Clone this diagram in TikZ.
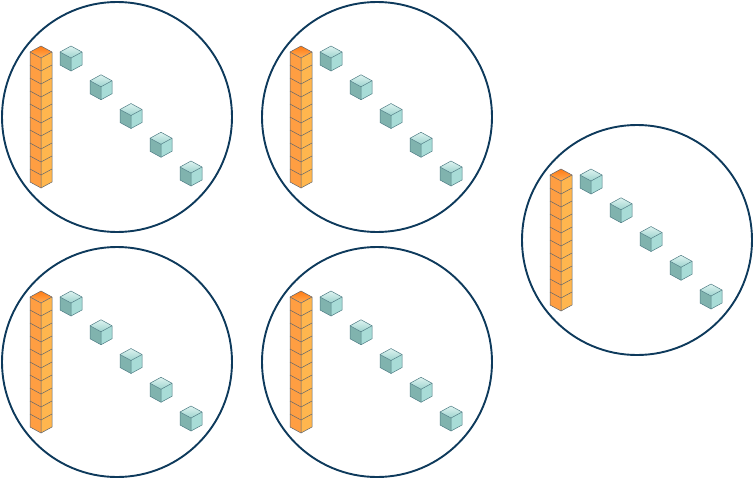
\documentclass[tikz,border=0pt]{standalone}
\usetikzlibrary{shapes.geometric}
\definecolor{ringc}{HTML}{0E3A5C}
\definecolor{rodL}{HTML}{FF9E42}
\definecolor{rodR}{HTML}{FFB64E}
\definecolor{rodT1}{HTML}{FF7A14}
\definecolor{rodT2}{HTML}{FFAE55}
\definecolor{rodE}{HTML}{5E6670}
\definecolor{cubL}{HTML}{80B3AE}
\definecolor{cubR}{HTML}{A8DCD7}
\definecolor{cubT1}{HTML}{DDF3F0}
\definecolor{cubT2}{HTML}{9ED3CE}
\definecolor{cubE}{HTML}{4E7C84}
\tikzset{
  ring/.style={circle, draw=ringc, line width=1.9pt, minimum size=230pt, inner sep=0pt, outer sep=0pt},
  rodedge/.style={draw=rodE, line width=0.5pt, line join=round},
  cubedge/.style={draw=cubE, line width=0.5pt, line join=round},
  pics/rod/.style={code={
    \fill[rodL] (-11,6) -- (0,12) -- (0,142) -- (-11,136) -- cycle;
    \fill[rodR] (0,12) -- (11,6) -- (11,136) -- (0,142) -- cycle;
    \shade[top color=rodT1, bottom color=rodT2] (0,0) -- (11,6) -- (0,12) -- (-11,6) -- cycle;
    \foreach \k in {1,...,9}{\draw[rodedge] (-11,6+13*\k) -- (0,12+13*\k) -- (11,6+13*\k);}
    \draw[rodedge] (0,0) -- (11,6) -- (11,136) -- (0,142) -- (-11,136) -- (-11,6) -- cycle;
    \draw[rodedge] (-11,6) -- (0,12) -- (11,6) (0,12) -- (0,142);
  }},
  pics/unitcube/.style={code={
    \fill[cubL] (-11,6) -- (0,12) -- (0,25) -- (-11,19) -- cycle;
    \fill[cubR] (0,12) -- (11,6) -- (11,19) -- (0,25) -- cycle;
    \shade[top color=cubT1, bottom color=cubT2] (0,0) -- (11,6) -- (0,12) -- (-11,6) -- cycle;
    \draw[cubedge] (0,0) -- (11,6) -- (11,19) -- (0,25) -- (-11,19) -- (-11,6) -- cycle;
    \draw[cubedge] (-11,6) -- (0,12) -- (11,6) (0,12) -- (0,25);
  }},
  pics/group/.style={code={
    \pic at (-76,-71) {rod};
    \foreach \k in {0,...,4}{\pic at (-46+30*\k,-71+28.75*\k) {unitcube};}
  }}
}
\begin{document}
\begin{tikzpicture}[x=1pt,y=-1pt]
\useasboundingbox (0,0) rectangle (754,480);
\node[ring] (c1) at (117,117) {};
\node[ring] (c2) at (377,117) {};
\node[ring] (c3) at (637,240) {};
\node[ring] (c4) at (117,362) {};
\node[ring] (c5) at (377,362) {};
\foreach \c in {c1,c2,c3,c4,c5}{\pic at (\c.center) {group};}
\end{tikzpicture}
\end{document}
